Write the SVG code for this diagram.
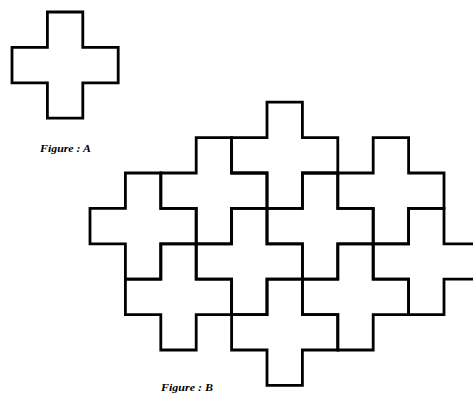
<svg xmlns="http://www.w3.org/2000/svg" xmlns:xlink="http://www.w3.org/1999/xlink" width="473" height="397" viewBox="0 0 473 397">
<style>
.cross{fill:none;stroke:#000;stroke-width:2.8;stroke-linejoin:miter}
.lbl{font-family:"Liberation Serif","Times New Roman",serif;font-style:italic;font-weight:bold;font-size:11px;fill:#000}
</style>
<defs>
<path id="plus" d="M0,-35.4 H35.4 V0 H70.8 V35.4 H35.4 V70.8 H0 V35.4 H-35.4 V0 H0 Z"/>
</defs>
<rect width="473" height="397" fill="#fff"/>
<g id="figA">
<use xlink:href="#plus" class="cross" transform="translate(47.4,47.4)"/>
</g>
<text id="labelA" class="lbl" x="40" y="152" textLength="51" lengthAdjust="spacingAndGlyphs">Figure : A</text>
<g id="figB">
<g id="c1"><use xlink:href="#plus" class="cross" transform="translate(267,137.6)"/></g>
<g id="c2"><use xlink:href="#plus" class="cross" transform="translate(196.2,173)"/></g>
<g id="c3"><use xlink:href="#plus" class="cross" transform="translate(373.2,173)"/></g>
<g id="c4"><use xlink:href="#plus" class="cross" transform="translate(125.4,208.4)"/></g>
<g id="c5"><use xlink:href="#plus" class="cross" transform="translate(302.4,208.4)"/></g>
<g id="c6"><use xlink:href="#plus" class="cross" transform="translate(231.6,243.8)"/></g>
<g id="c7"><use xlink:href="#plus" class="cross" transform="translate(408.6,243.8)"/></g>
<g id="c8"><use xlink:href="#plus" class="cross" transform="translate(160.8,279.2)"/></g>
<g id="c9"><use xlink:href="#plus" class="cross" transform="translate(337.8,279.2)"/></g>
<g id="c10"><use xlink:href="#plus" class="cross" transform="translate(267,314.6)"/></g>
</g>
<text id="labelB" class="lbl" x="161" y="391" textLength="52" lengthAdjust="spacingAndGlyphs">Figure : B</text>
</svg>
